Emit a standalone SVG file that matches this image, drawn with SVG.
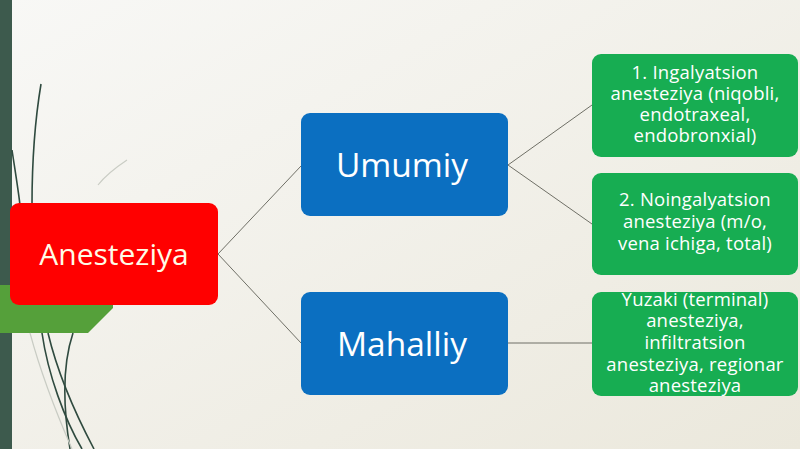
<svg xmlns="http://www.w3.org/2000/svg" width="800" height="449" viewBox="0 0 800 449">
<defs>
<linearGradient id="bg" x1="0" y1="0" x2="1" y2="1">
<stop offset="0" stop-color="#f8f8f6"/>
<stop offset="1" stop-color="#ebe8dc"/>
</linearGradient>
<style>
.conn{stroke:#6f6f66;stroke-width:1;fill:none}
.deco{stroke:#2f4a3f;stroke-width:1.6;fill:none}
.decol{stroke:#c9ccc4;stroke-width:1.2;fill:none}
.blue{fill:#0b6fc1}
.green{fill:#17ad52}
.t{font-family:"Open Sans","Noto Sans","DejaVu Sans",sans-serif;text-anchor:middle;fill:#ffffff}
.tg{font-size:18.5px;letter-spacing:0.2px}
.tb{font-size:33.5px}
</style>
</defs>
<rect width="800" height="449" fill="url(#bg)"/>
<rect x="0" y="0" width="12" height="449" fill="#3d5a4d"/>
<g id="decoration">
<path class="deco" d="M41,84 C35,120 32,165 32,205"/>
<path class="deco" d="M12,150 C15,170 18,188 20,205"/>
<path class="decol" d="M127,160 C115,168 105,176 98,185"/>
<polygon points="0,285 113,285 113,308 88,333 0,333" fill="#55a03a"/>
<path class="deco" d="M42,333 C48,375 65,420 82,449"/>
<path class="deco" d="M48,333 C58,375 76,415 94,449"/>
<path class="deco" d="M73,333 C64,360 62,400 70,449"/>
<path class="decol" d="M30,333 C40,370 55,410 72,449"/>
</g>
<g id="connectors">
<line class="conn" x1="218" y1="254" x2="301" y2="166"/>
<line class="conn" x1="218" y1="254" x2="301" y2="343"/>
<line class="conn" x1="508" y1="165" x2="592" y2="105"/>
<line class="conn" x1="508" y1="165" x2="592" y2="224"/>
<line class="conn" x1="508" y1="343" x2="592" y2="343"/>
</g>
<g id="anesteziya">
<rect x="10" y="203" width="208" height="102" rx="9" fill="#ff0000"/>
<text class="t" x="114" y="265" font-size="30" style="fill:#fffbe6">Anesteziya</text>
</g>
<g id="umumiy">
<rect class="blue" x="301" y="113" width="207" height="103" rx="9"/>
<text class="t tb" x="402" y="177">Umumiy</text>
</g>
<g id="mahalliy">
<rect class="blue" x="301" y="292" width="207" height="103" rx="9"/>
<text class="t tb" x="402" y="356">Mahalliy</text>
</g>
<g id="ingalyatsion">
<rect class="green" x="592" y="54" width="206" height="103" rx="9"/>
<text class="t tg"><tspan x="695" y="79">1. Ingalyatsion</tspan><tspan x="695" y="100">anesteziya (niqobli,</tspan><tspan x="695" y="121">endotraxeal,</tspan><tspan x="695" y="142">endobronxial)</tspan></text>
</g>
<g id="noingalyatsion">
<rect class="green" x="592" y="173" width="206" height="102" rx="9"/>
<text class="t tg"><tspan x="695" y="206">2. Noingalyatsion</tspan><tspan x="695" y="228">anesteziya (m/o,</tspan><tspan x="695" y="250">vena ichiga, total)</tspan></text>
</g>
<g id="mahalliy-turlari">
<rect class="green" x="592" y="292" width="206" height="104" rx="9"/>
<text class="t tg"><tspan x="695" y="306">Yuzaki (terminal)</tspan><tspan x="695" y="327">anesteziya,</tspan><tspan x="695" y="349">infiltratsion</tspan><tspan x="695" y="371">anesteziya, regionar</tspan><tspan x="695" y="392">anesteziya</tspan></text>
</g>
</svg>
